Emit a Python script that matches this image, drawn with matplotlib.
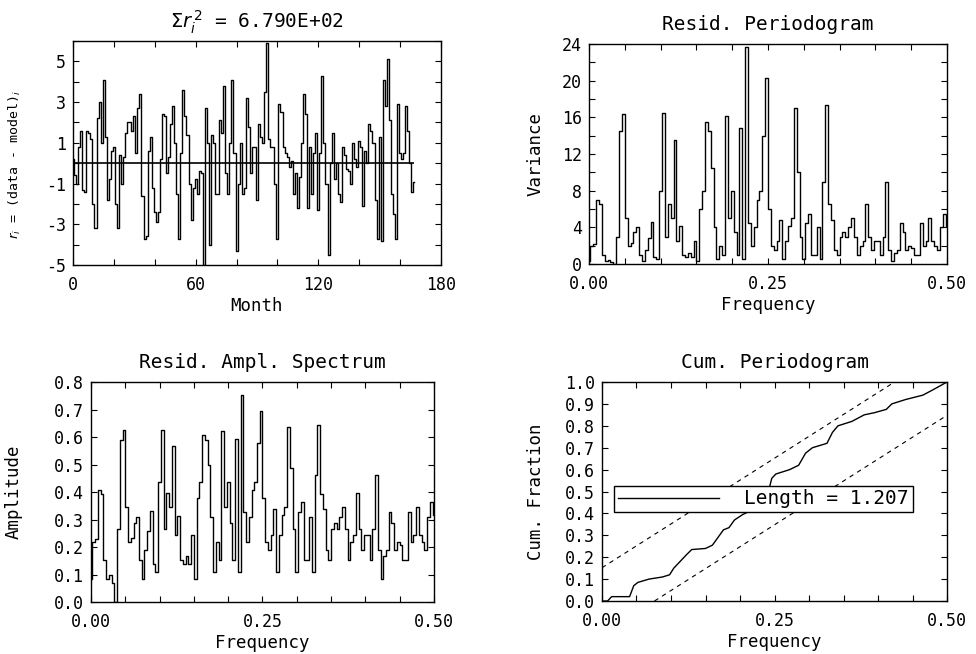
import numpy as np
import matplotlib
matplotlib.use("Agg")
import matplotlib.pyplot as plt
from matplotlib.ticker import MultipleLocator, FormatStrFormatter

plt.rcParams['font.family'] = ['DejaVu Sans Mono', 'DejaVu Sans']
plt.rcParams['mathtext.fontset'] = 'dejavusans'
plt.rcParams['axes.unicode_minus'] = False

# residuals r_i = data - model, one per month
resid = [
    0.2, -0.6, -1.0, 0.8, 1.6, -1.3, -1.4, 1.6, 1.5, 1.2,
    -2.0, -3.2, 2.2, 3.0, 1.0, 4.1, 1.3, -1.8, -0.8, 0.6,
    0.8, -2.0, -3.2, 0.4, -1.0, 0.3, 1.5, 2.0, 2.0, 1.6,
    2.3, 0.5, 2.7, 3.4, -1.6, -3.7, -3.6, 0.6, 1.3, -1.2,
    -2.4, -2.9, -2.4, 0.2, 2.4, 2.3, -0.5, 0.3, 1.9, 2.8,
    1.0, -1.5, -3.7, 0.5, 3.6, 2.3, 1.4,
    -1.0, -2.8, -1.2, -0.8, -1.5, -0.4, -0.5, -5.0, 2.7, 1.0,
    -4.0, 1.4, 1.0, -1.5, -1.5, 2.1, 1.5, 3.8, -0.5, -1.5,
    1.0, 4.1, 0.5, -4.3, -1.0, 1.0, -1.5, -1.2, 3.2, 1.8,
    -0.5, 0.8, 0.8, -1.8, 1.9, 1.3, 1.0, 3.5, 5.9, 1.2,
    0.8, 0.8, -1.0, -3.7, 2.9, 2.5, 0.8, 0.5, 0.3, -0.2,
    0.1, -1.5, -0.5, -2.2, -0.7, 1.0, 3.4, 2.4, -2.2,
    0.8, -1.5, 0.5, 1.5, -2.3, 0.5, 4.3, 1.0, -1.0, -4.5,
    0.0, 1.5, -0.8, 0.0, -1.5, -1.9, 0.8, 0.4, -0.3, -0.4,
    -1.0, 1.0, 0.2, -0.2, 1.1, 0.8, -2.1, 0.6, 0.0, 1.9,
    1.6, 1.0, -1.8, -3.7, 1.3, -3.8, 4.1, 2.8, 5.1, 2.1,
    -1.5, -2.5, -3.7, 2.9, 0.5, 0.2, 0.5, 2.8, 1.6, 0.0,
    -1.4, -0.9,
]

# periodogram of the residuals, frequencies 0 .. 0.5
power = [
    0.3, 2.0, 2.2, 7.0, 6.5, 1.0, 0.3, 0.4, 0.2, 0.0,
    3.0, 14.5, 16.4, 5.0, 2.0, 2.3, 3.5, 4.0, 1.0, 0.3,
    1.5, 2.8, 4.6, 0.8, 0.5, 8.0, 16.5, 3.0, 6.6, 5.0,
    13.5, 2.5, 4.1, 1.0, 0.8, 1.2, 0.8, 2.5, 0.3, 6.0,
    8.0, 15.5, 14.5, 10.5, 4.0, 0.5, 2.0, 1.0, 16.2, 5.0,
    8.0, 3.5, 1.0, 14.8, 0.5, 23.7, 4.5, 2.0, 4.0, 7.0,
    8.0, 14.0, 20.3, 6.0, 2.0, 1.5, 2.5, 4.8, 0.5, 2.5,
    4.2, 5.0, 17.0, 10.0, 3.0, 0.5, 4.5, 5.5, 1.0, 1.0,
    4.0, 0.5, 9.0, 17.4, 6.5, 4.8, 1.5, 1.0, 3.0, 3.5,
    3.0, 4.0, 5.0, 3.0, 1.0, 2.0, 2.5, 6.6, 3.0, 1.5,
    2.5, 2.5, 1.0, 3.0, 9.0, 1.5, 0.3, 1.2, 1.5, 4.5,
    3.5, 1.5, 2.0, 1.8, 1.0, 1.0, 4.5, 2.0, 2.5, 5.0,
    2.5, 2.0, 1.5, 4.0, 5.5, 4.2,
]

# cumulative periodogram (frequency, fraction)
cum_freq = [0.0, 0.008, 0.014, 0.040, 0.046, 0.052, 0.068, 0.088, 0.098, 0.104,
            0.110, 0.122, 0.130, 0.150, 0.160, 0.168, 0.176, 0.184, 0.192, 0.204,
            0.214, 0.222, 0.232, 0.242, 0.246, 0.252, 0.272, 0.285, 0.295, 0.305,
            0.326, 0.334, 0.342, 0.362, 0.380, 0.395, 0.412, 0.420, 0.440, 0.465,
            0.480, 0.500]
cum_frac = [0.0, 0.0, 0.02, 0.02, 0.07, 0.085, 0.10, 0.11, 0.12, 0.15,
            0.17, 0.21, 0.235, 0.24, 0.255, 0.29, 0.325, 0.335, 0.37, 0.395,
            0.41, 0.45, 0.48, 0.51, 0.56, 0.58, 0.60, 0.62, 0.675, 0.70,
            0.72, 0.77, 0.80, 0.82, 0.85, 0.86, 0.875, 0.90, 0.92, 0.94,
            0.965, 1.0]

sum_sq_text = '6.790E+02'
cum_length = '1.207'
ks_band = 0.152

months = np.arange(len(resid))
freq = np.linspace(0, 0.5, len(power))
ampl = np.sqrt(4 * np.array(power) / len(resid))
cf = np.array(cum_freq)

fig = plt.figure(figsize=(9.76, 6.54), dpi=100)
ax1 = fig.add_axes([0.0748, 0.5948, 0.3770, 0.3425])
ax2 = fig.add_axes([0.6035, 0.5963, 0.3668, 0.3364])
ax3 = fig.add_axes([0.0932, 0.0795, 0.3515, 0.3364])
ax4 = fig.add_axes([0.6168, 0.0810, 0.3535, 0.3349])

lw = 1.0
for ax in (ax1, ax2, ax3, ax4):
    for s in ax.spines.values():
        s.set_linewidth(1.0)
    ax.tick_params(which='both', direction='in', top=True, right=True,
                   length=4, width=0.8, labelsize=12)
    ax.tick_params(axis='x', which='both', pad=8)
    ax.tick_params(axis='y', which='both', pad=5)

# residuals
ax1.plot(months, resid, color='black', lw=lw, drawstyle='steps-mid')
ax1.hlines(0, months[0], months[-1], color='black', lw=1.2)
ax1.set_xlim(0, 180)
ax1.set_ylim(-5, 6)
ax1.xaxis.set_major_locator(MultipleLocator(60))
ax1.xaxis.set_minor_locator(MultipleLocator(20))
ax1.yaxis.set_major_locator(MultipleLocator(2, offset=1))
ax1.yaxis.set_minor_locator(MultipleLocator(1))
ax1.set_title(r'$\Sigma r_i^{\,2}$ = ' + sum_sq_text, fontsize=14, pad=9)
ax1.set_xlabel('Month', fontsize=12.5, labelpad=2)
ax1.set_ylabel(r'$r_i$ = (data - model)$_i$', fontsize=9.5)
ax1.yaxis.set_label_coords(-0.135, 0.45)

# periodogram
ax2.plot(freq, power, color='black', lw=lw, drawstyle='steps-mid')
ax2.set_xlim(0, 0.5)
ax2.set_ylim(0, 24)
ax2.xaxis.set_major_locator(MultipleLocator(0.25))
ax2.xaxis.set_minor_locator(MultipleLocator(0.05))
ax2.xaxis.set_major_formatter(FormatStrFormatter('%.2f'))
ax2.yaxis.set_major_locator(MultipleLocator(4))
ax2.yaxis.set_minor_locator(MultipleLocator(2))
ax2.set_title('Resid. Periodogram', fontsize=14, pad=10)
ax2.set_xlabel('Frequency', fontsize=12.5, labelpad=2)
ax2.set_ylabel('Variance', fontsize=12.5)
ax2.yaxis.set_label_coords(-0.123, 0.5)

# amplitude spectrum
ax3.plot(freq, ampl, color='black', lw=lw, drawstyle='steps-mid')
ax3.set_xlim(0, 0.5)
ax3.set_ylim(0, 0.8)
ax3.xaxis.set_major_locator(MultipleLocator(0.25))
ax3.xaxis.set_minor_locator(MultipleLocator(0.05))
ax3.xaxis.set_major_formatter(FormatStrFormatter('%.2f'))
ax3.yaxis.set_major_locator(MultipleLocator(0.1))
ax3.yaxis.set_major_formatter(FormatStrFormatter('%.1f'))
ax3.set_title('Resid. Ampl. Spectrum', fontsize=14, pad=10)
ax3.set_xlabel('Frequency', fontsize=12.5, labelpad=2)
ax3.set_ylabel('Amplitude', fontsize=12.5)
ax3.yaxis.set_label_coords(-0.2, 0.5)

# cumulative periodogram
ax4.plot(cf, cum_frac, color='black', lw=lw, label='Length = ' + cum_length)
ax4.plot(cf, 2 * cf + ks_band, color='black', lw=0.8, dashes=(4, 4))
ax4.plot(cf, 2 * cf - ks_band, color='black', lw=0.8, dashes=(4, 4))
ax4.set_xlim(0, 0.5)
ax4.set_ylim(0, 1.0)
ax4.xaxis.set_major_locator(MultipleLocator(0.25))
ax4.xaxis.set_minor_locator(MultipleLocator(0.05))
ax4.xaxis.set_major_formatter(FormatStrFormatter('%.2f'))
ax4.yaxis.set_major_locator(MultipleLocator(0.1))
ax4.yaxis.set_major_formatter(FormatStrFormatter('%.1f'))
ax4.set_title('Cum. Periodogram', fontsize=14, pad=10)
ax4.set_xlabel('Frequency', fontsize=12.5, labelpad=2)
ax4.set_ylabel('Cum. Fraction', fontsize=12.5)
ax4.yaxis.set_label_coords(-0.165, 0.5)
leg = ax4.legend(loc='center left', bbox_to_anchor=(0.035, 0.466), fontsize=14,
                 handlelength=5.2, handletextpad=1.3, borderpad=0.2,
                 fancybox=False, framealpha=1, edgecolor='black', borderaxespad=0)
leg.get_frame().set_linewidth(1.0)

fig.savefig('out.png', dpi=100)
